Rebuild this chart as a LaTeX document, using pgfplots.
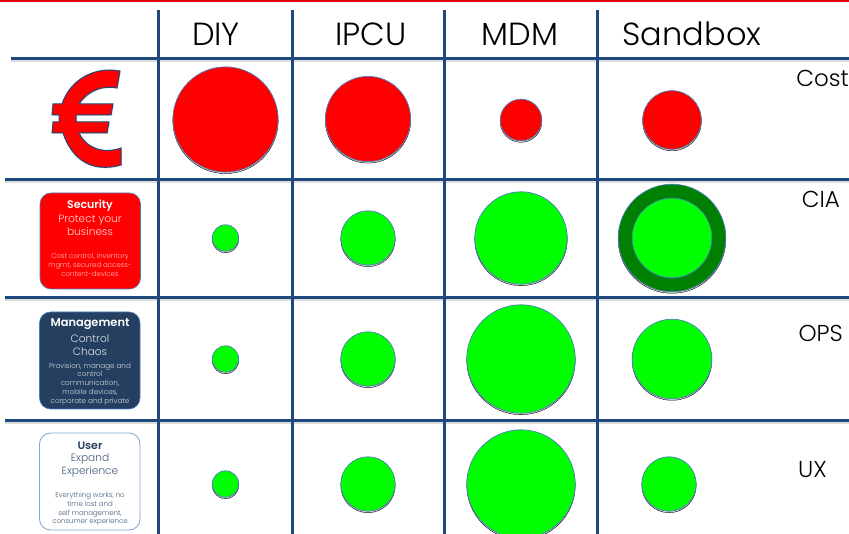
\documentclass[border=0pt]{standalone}
\usepackage{fontspec}
\setmainfont{Poppins Light}[BoldFont={Poppins SemiBold}]
\usepackage{pgfplots}
\usepackage{pgfplotstable}
\pgfplotsset{compat=1.18}
\definecolor{gridblue}{HTML}{1F497D}
\definecolor{edge}{HTML}{4A7EBB}
\definecolor{navy}{HTML}{243F60}
\definecolor{dkgreen}{HTML}{008000}
\definecolor{topred}{HTML}{E3000F}
\pgfplotstableread{
x y r
225.5 119.5 52.6
368 119 42.6
521 120 20.8
672 120 29.3
}\costdata
\pgfplotstableread{
x y r
225.5 238 13.2
368 238 27.2
521 238 46.2
225.5 359 13.2
368 359 27.2
521 359 54.2
672 359 39.8
225.5 484 13.2
368 484 27.2
521 484 54.2
669 484 27.2
}\greendata
\pgfplotstableread{
x y r
672 238 53.8
}\ringdata
\pgfplotstableread{
x y r
672 238 39.8
}\innerdata
\pgfplotsset{
 bubble/.style={scatter, only marks, mark=*, scatter src=x, clip marker paths=true,
  scatter/use mapped color={draw=edge,fill=#1}, line width=0.7pt,
  visualization depends on={\thisrow{r} \as \perr},
  scatter/@pre marker code/.append style={/tikz/mark size=\perr}},
 shad/.style={scatter, only marks, mark=*, scatter src=x, clip marker paths=true,
  scatter/use mapped color={draw=none,fill=black!60,fill opacity=0.28},
  visualization depends on={\thisrow{r} \as \perr},
  scatter/@pre marker code/.append style={/tikz/mark size=\perr}},
 gl/.style={gridblue, line width=3pt, forget plot},
 gs/.style={black!30, line width=2pt, opacity=.45, forget plot},
}
\begin{document}
\begin{tikzpicture}
\begin{axis}[scale only axis, width=849pt, height=534pt, xmin=0, xmax=849, ymin=0, ymax=534,
  y dir=reverse, hide axis, clip=true]
% top rule
\addplot[topred, line width=2.5pt, forget plot] coordinates {(0,0.8) (849,0.8)};
% grid shadows
\addplot[gs] coordinates {(11,61.5) (849,61.5)};
\addplot[gs] coordinates {(5,182.5) (849,182.5)};
\addplot[gs] coordinates {(5,300.5) (849,300.5)};
\addplot[gs] coordinates {(5,423.5) (849,423.5)};
% grid
\addplot[gl] coordinates {(158,10) (158,534)};
\addplot[gl] coordinates {(292,10) (292,534)};
\addplot[gl] coordinates {(444,10) (444,534)};
\addplot[gl] coordinates {(597,10) (597,534)};
\addplot[gl] coordinates {(11,59) (849,59)};
\addplot[gl] coordinates {(5,180) (849,180)};
\addplot[gl] coordinates {(5,298) (849,298)};
\addplot[gl] coordinates {(5,421) (849,421)};
% bubbles
\addplot[shad, y filter/.expression={y+1.5}] table[x=x,y=y] {\costdata};
\addplot[shad, y filter/.expression={y+1.5}] table[x=x,y=y] {\greendata};
\addplot[shad, y filter/.expression={y+1.5}] table[x=x,y=y] {\ringdata};
\addplot[bubble=red] table[x=x,y=y] {\costdata};
\addplot[bubble=green] table[x=x,y=y] {\greendata};
\addplot[bubble=dkgreen] table[x=x,y=y] {\ringdata};
\addplot[bubble=green] table[x=x,y=y] {\innerdata};
% headers
\node[font=\fontsize{32}{34}\selectfont, anchor=center] at (axis cs:216,34) {DIY};
\node[font=\fontsize{32}{34}\selectfont, anchor=center] at (axis cs:371,34) {IPCU};
\node[font=\fontsize{32}{34}\selectfont, anchor=center] at (axis cs:520,34) {MDM};
\node[font=\fontsize{32}{34}\selectfont, anchor=center] at (axis cs:692,34) {Sandbox};
% right labels
\node[font=\fontsize{23}{25}\selectfont, anchor=east, inner sep=0pt] at (axis cs:849,78) {Cost};
\node[font=\fontsize{23}{25}\selectfont, anchor=east, inner sep=0pt] at (axis cs:840,199) {CIA};
\node[font=\fontsize{23}{25}\selectfont, anchor=east, inner sep=0pt] at (axis cs:843,333) {OPS};
\node[font=\fontsize{23}{25}\selectfont, anchor=east, inner sep=0pt] at (axis cs:827,470) {UX};
% euro sign
\path[fill=black!50, opacity=.25]
 (axis cs:121,72) -- (118,89) .. controls (105,86) and (89,91) .. (80,105)
 -- (114,105) -- (112,116) -- (77,116) -- (77,123) -- (110,123) -- (108,134) -- (80,134)
 .. controls (88,150) and (105,155) .. (122,149) -- (122,166)
 .. controls (93,174) and (73,161) .. (64,134) -- (53,134) -- (54,123) -- (60,123) -- (60,116)
 -- (53,116) -- (54,105) -- (63,105) .. controls (71,81) and (95,67) .. (121,72) -- cycle;
\path[fill=red, draw=gridblue, line width=1pt]
 (axis cs:120,71) -- (117,88) .. controls (104,85) and (88,90) .. (79,104)
 -- (113,104) -- (111,115) -- (76,115) -- (76,122) -- (109,122) -- (107,133) -- (79,133)
 .. controls (87,149) and (104,154) .. (121,148) -- (121,165)
 .. controls (92,173) and (72,160) .. (63,133) -- (52,133) -- (53,122) -- (59,122) -- (59,115)
 -- (52,115) -- (53,104) -- (62,104) .. controls (70,80) and (94,66) .. (120,71) -- cycle;
% boxes
\path[fill=red, draw=edge, line width=.6pt, rounded corners=11pt] (axis cs:40,193) rectangle (axis cs:140.5,289);
\path[fill=navy, draw=edge, line width=.6pt, rounded corners=11pt] (axis cs:39.5,312) rectangle (axis cs:140,409);
\path[fill=white, draw=edge!70, line width=.8pt, rounded corners=11pt] (axis cs:39.5,433) rectangle (axis cs:140,530);
% red box text
\node[text=white, align=center, font=\fontsize{11}{12}\selectfont\bfseries, inner sep=0] at (axis cs:90,205.5) {Security};
\node[text=white!85!red, align=center, font=\fontsize{10.6}{13.5}\selectfont, inner sep=0] at (axis cs:90,225.5) {Protect your\\business};
\node[text=white!75!red, align=center, font=\fontsize{7}{8.8}\selectfont, inner sep=0] at (axis cs:90,265) {Cost control, inventory\\mgmt, secured access-\\content-devices};
% navy box text
\node[text=white, align=center, font=\fontsize{11.4}{12}\selectfont\bfseries, inner sep=0] at (axis cs:90,324.5) {Management};
\node[text=white!85!navy, align=center, font=\fontsize{10.6}{13}\selectfont, inner sep=0] at (axis cs:90,345) {Control\\Chaos};
\node[text=white!80!navy, align=center, font=\fontsize{7.2}{8.8}\selectfont, inner sep=0] at (axis cs:90,384) {Provision, manage  and\\control\\communication,\\mobile devices,\\corporate and private};
% white box text
\node[text=navy, align=center, font=\fontsize{11}{12}\selectfont\bfseries, inner sep=0] at (axis cs:90,445.5) {User};
\node[text=navy!85!white, align=center, font=\fontsize{10.6}{13}\selectfont, inner sep=0] at (axis cs:90,465.5) {Expand\\Experience};
\node[text=navy!85!white, align=center, font=\fontsize{7}{8.8}\selectfont, inner sep=0] at (axis cs:90,509) {Everything works, no\\time lost and\\self management,\\consumer experience};
\end{axis}
\end{tikzpicture}
\end{document}
